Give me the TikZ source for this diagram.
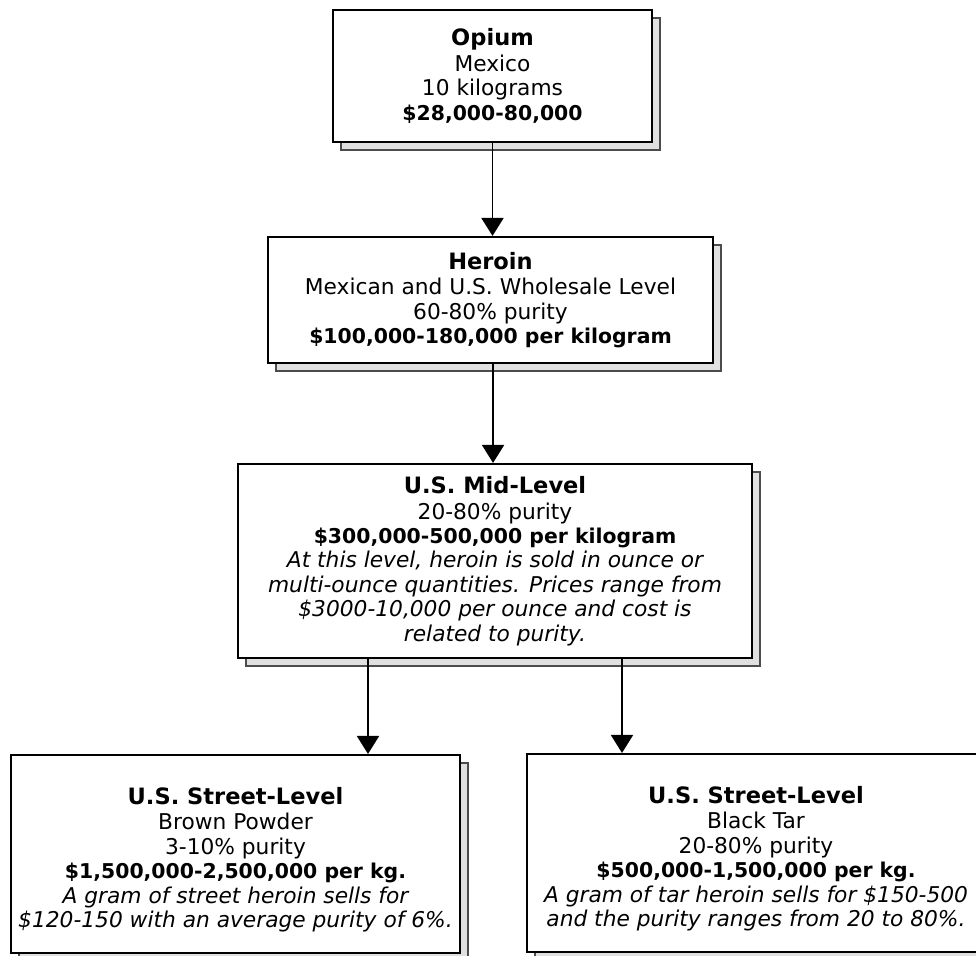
\documentclass[tikz,border=0pt]{standalone}
\usepackage{fontspec}
\setmainfont{DejaVu Sans}[ItalicFont={DejaVu Sans Oblique},BoldFont={DejaVu Sans Bold},BoldItalicFont={DejaVu Sans Bold Oblique}]
\usetikzlibrary{arrows.meta,shadows}
\newcommand\boxtitle[1]{{\fontsize{16.9}{18}\selectfont\bfseries #1}}
\newcommand\boxprice[1]{{\fontsize{15.3}{18}\selectfont\bfseries #1}}
\newcommand\boxnote[1]{{\itshape #1}}
\begin{document}
\begin{tikzpicture}[x=0.75pt,y=-0.75pt,
  stage/.style={draw=black, line width=1.6pt, fill=white, align=center, inner sep=0pt,
    font=\fontsize{16.3}{18.3}\selectfont,
    drop shadow={shadow xshift=6pt, shadow yshift=-6pt, opacity=1, fill=black!12, draw=black!70, line width=0.8pt}},
  arr/.style={line width=1.4pt, -{Triangle[length=13.5pt,width=16.5pt]}}]
\useasboundingbox (0,0) rectangle (976,956);

\node[stage, minimum width=239.25pt, minimum height=99pt] (b1) at (492.5,76)
  {\boxtitle{Opium}\\[1pt] Mexico\\ 10 kilograms\\ \boxprice{\$28,000-80,000}};
\node[stage, minimum width=333.75pt, minimum height=94.5pt] (b2) at (490.5,300)
  {\boxtitle{Heroin}\\[1pt] Mexican and U.S. Wholesale Level\\ 60-80\% purity\\ \boxprice{\$100,000-180,000 per kilogram}};
\node[stage, minimum width=385.5pt, minimum height=145.5pt] (b3) at (495,561)
  {\boxtitle{U.S. Mid-Level}\\[1pt] 20-80\% purity\\ \boxprice{\$300,000-500,000 per kilogram}\\
   \boxnote{At this level, heroin is sold in ounce or}\\
   \boxnote{multi-ounce quantities. Prices range from}\\
   \boxnote{\$3000-10,000 per ounce and cost is}\\
   \boxnote{related to purity.}};
\node[stage, minimum width=336.75pt, minimum height=148.5pt] (b4) at (235.5,854)
  {\rule{0pt}{21pt}\boxtitle{U.S. Street-Level}\\[1pt] Brown Powder\\ 3-10\% purity\\ \boxprice{\$1,500,000-2,500,000 per kg.}\\
   \boxnote{A gram of street heroin sells for}\\
   \boxnote{\$120-150 with an average purity of 6\%.}};
\node[stage, minimum width=343.5pt, minimum height=148.5pt] (b5) at (756,853)
  {\rule{0pt}{21pt}\boxtitle{U.S. Street-Level}\\[1pt] Black Tar\\ 20-80\% purity\\ \boxprice{\$500,000-1,500,000 per kg.}\\
   \boxnote{A gram of tar heroin sells for \$150-500}\\
   \boxnote{and the purity ranges from 20 to 80\%.}};

\coordinate (s1) at ([xshift=1.9pt]b2.south);
\coordinate (s3) at ([xshift=-95.25pt]b3.south);
\coordinate (s4) at ([xshift=95.25pt]b3.south);
\draw[arr] (b1.south) -- (b1.south |- b2.north);
\draw[arr] (s1) -- (s1 |- b3.north);
\draw[arr] (s3) -- (s3 |- b4.north);
\draw[arr] (s4) -- (s4 |- b5.north);
\end{tikzpicture}
\end{document}
